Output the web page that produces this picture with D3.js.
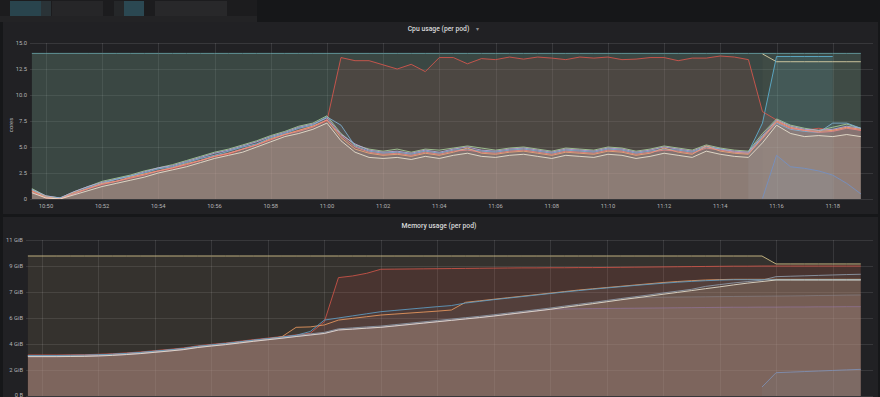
<!DOCTYPE html>
<html><head><meta charset="utf-8">
<script src="https://cdn.jsdelivr.net/npm/d3@7"></script>
<style>
html,body{margin:0;padding:0;background:#161719;overflow:hidden}
svg{display:block}
text{font-family:Roboto,"Noto Sans",sans-serif}
</style></head><body>
<svg id="c" width="880" height="397"></svg>
<script>
// ---------- DATA ----------
const times = ["10:49:30","10:50:00","10:50:30","10:51:00","10:51:30","10:52:00","10:52:30","10:53:00","10:53:30","10:54:00",
"10:54:30","10:55:00","10:55:30","10:56:00","10:56:30","10:57:00","10:57:30","10:58:00","10:58:30","10:59:00",
"10:59:30","11:00:00","11:00:30","11:01:00","11:01:30","11:02:00","11:02:30","11:03:00","11:03:30","11:04:00",
"11:04:30","11:05:00","11:05:30","11:06:00","11:06:30","11:07:00","11:07:30","11:08:00","11:08:30","11:09:00",
"11:09:30","11:10:00","11:10:30","11:11:00","11:11:30","11:12:00","11:12:30","11:13:00","11:13:30","11:14:00",
"11:14:30","11:15:00","11:15:30","11:16:00","11:16:30","11:17:00","11:17:30","11:18:00","11:18:30","11:19:00"];

const cpuTicks = [0, 2.5, 5, 7.5, 10, 12.5, 15];
const cpuTickLabels = ["0","2.5","5.0","7.5","10.0","12.5","15.0"];
const memTickBytes = [0, 2e9, 4e9, 6e9, 8e9, 10e9, 12e9];
const memTickLabels = ["0 B","2 GiB","4 GiB","6 GiB","7 GiB","9 GiB","11 GiB"];

// CPU (cores)
const cpuLimit = [14,14,14,14,14,14,14,14,14,14,14,14,14,14,14,14,14,14,14,14,14,14,14,14,14,14,14,14,14,14,
14,14,14,14,14,14,14,14,14,14,14,14,14,14,14,14,14,14,14,14,14,14,14,14,14,14,14,14,14,14];
const cpuBeige = Array(52).fill(null).concat([13.95,13.2,13.2,13.2,13.2,13.2,13.2,13.2]);
const cpuTeal = Array(51).fill(null).concat([4.5,7.3,13.7,13.7,13.7,13.7,13.7,null,null]);
const cpuRed = [0.8,0.1,0.05,0.5,1.0,1.4,1.7,2.0,2.4,2.7,2.9,3.3,3.7,4.1,4.3,4.8,5.2,5.7,6.2,6.6,7.0,7.5,
13.6,13.3,13.3,12.9,12.5,12.95,12.25,13.6,13.6,13.0,13.5,13.4,13.65,13.45,13.65,13.55,13.4,13.65,13.55,13.65,13.4,13.45,13.6,13.6,13.3,13.55,13.55,13.75,13.65,13.4,
8.4,7.6,6.8,6.6,6.8,6.6,6.9,6.6];
const cpuA = [0.6,0.1,0.0,0.4,0.8,1.2,1.5,1.8,2.1,2.5, 2.8,3.1,3.5,3.9,4.2,4.5,5.0,5.5,6.0,6.3, 6.7,7.3,5.6,4.5,4.0,3.9,4.0,3.8,4.1,3.9, 4.2,4.4,4.1,4.0,4.2,4.3,4.1,3.9,4.2,4.1, 4.0,4.3,4.2,3.9,4.1,4.4,4.2,4.0,4.6,4.3, 4.1,4.0,5.4,7.1,6.3,6.0,6.1,6.0,6.2,6.0];
const cpuB = [1.0,0.3,0.1,0.7,1.2,1.7,2.0,2.3,2.7,3.0, 3.3,3.7,4.1,4.5,4.8,5.2,5.6,6.1,6.5,7.0, 7.3,8.0,6.3,5.2,4.8,4.6,4.8,4.5,4.8,4.7, 4.9,5.1,4.9,4.7,4.9,5.0,4.8,4.6,4.9,4.8, 4.7,5.0,4.9,4.6,4.8,5.1,4.9,4.7,5.2,4.9, 4.7,4.6,6.3,7.7,7.1,6.8,6.6,6.9,7.2,6.8];
const cpuC = [0.8,0.2,0.0,0.6,1.0,1.5,1.7,2.1,2.4,2.7, 3.0,3.4,3.7,4.1,4.4,4.8,5.2,5.8,6.2,6.6, 7.0,7.6,5.9,4.8,4.4,4.2,4.3,4.1,4.4,4.2, 4.5,4.9,4.4,4.3,4.5,4.6,4.4,4.2,4.5,4.4, 4.3,4.6,4.5,4.2,4.4,4.9,4.5,4.3,5.1,4.6, 4.4,4.3,5.9,7.5,6.9,6.6,6.5,6.6,6.9,6.7];
const cpuD = [0.9,0.2,0.1,0.5,1.1,1.5,1.9,2.2,2.5,2.9, 3.1,3.5,3.9,4.2,4.6,5.0,5.3,5.9,6.3,6.8, 7.1,7.9,7.1,5.1,4.6,4.4,4.5,4.3,4.6,4.4, 4.7,4.8,4.6,4.5,4.7,4.8,4.6,4.4,4.7,4.6, 4.5,4.8,4.7,4.4,4.6,4.8,4.7,4.5,5.0,4.8, 4.5,4.4,6.0,7.3,6.7,6.5,6.4,7.3,7.3,6.8];
const cpuE = [0.7,0.1,0.0,0.5,1.0,1.4,1.7,2.0,2.3,2.7, 3.0,3.3,3.7,4.1,4.4,4.8,5.2,5.7,6.2,6.5, 6.9,7.6,6.1,5.0,4.5,4.3,4.4,4.2,4.5,4.3, 4.6,4.7,4.5,4.4,4.6,4.7,4.5,4.3,4.6,4.5, 4.4,4.7,4.6,4.3,4.5,4.7,4.6,4.4,4.9,4.7, 4.5,4.4,5.8,7.4,6.8,6.6,6.4,6.5,6.8,6.6];
const cpuF = [0.9,0.3,0.1,0.7,1.2,1.6,1.9,2.2,2.6,3.0, 3.2,3.6,4.0,4.4,4.7,5.1,5.5,6.0,6.4,6.9, 7.2,7.8,6.2,5.3,4.7,4.5,4.6,4.4,4.7,4.5, 4.8,5.0,4.7,4.6,4.8,4.9,4.7,4.5,4.8,4.7, 4.6,4.9,4.8,4.5,4.7,5.0,4.8,4.6,5.1,4.8, 4.6,4.5,6.1,7.6,7.0,6.7,6.6,6.7,7.0,6.8];
const cpuNew = Array(52).fill(null).concat([0.05,4.2,3.1,2.95,2.7,2.3,1.5,0.5]);

// Memory (GiB)
const memYellow = [10.03,10.03,10.03,10.03,10.03,10.03,10.03,10.03,10.03,10.03,10.03,10.03,10.03,10.03,10.03,10.03,10.03,10.03,10.03,10.03,
10.03,10.03,10.03,10.03,10.03,10.03,10.03,10.03,10.03,10.03,10.03,10.03,10.03,10.03,10.03,10.03,10.03,10.03,10.03,10.03,
10.03,10.03,10.03,10.03,10.03,10.03,10.03,10.03,10.03,10.03,10.03,10.03,10.03,9.46,9.46,9.46,9.46,9.46,9.46,9.46];
const memRed = [2.94,2.94,2.94,2.95,2.96,2.99,3.03,3.09,3.16,3.25,3.34,3.44,3.59,3.70,3.80,3.92,4.04,4.15,4.26,4.38,4.49,5.32,
8.48,8.60,8.79,9.08,9.09,9.10,9.11,9.12,9.13,9.14,9.15,9.16,9.17,9.18,9.18,9.19,9.19,9.20,9.20,9.21,9.22,9.23,9.24,9.25,9.26,9.27,9.28,9.29,9.30,9.30,9.31,
9.31,9.31,9.31,9.31,9.31,9.31,9.31];
const memWhite = [2.82,2.82,2.82,2.83,2.84,2.87,2.91,2.97,3.04,3.13,3.22,3.32,3.47,3.58,3.68,3.80,3.92,4.03,4.14,4.26,
4.37,4.48,4.73,4.79,4.86,4.92,5.02,5.12,5.22,5.32,5.42,5.52,5.62,5.73,5.85,5.97,6.09,6.21,6.35,6.48,
6.61,6.75,6.89,7.02,7.15,7.29,7.42,7.55,7.69,7.82,7.96,8.09,8.20,8.31,8.31,8.31,8.31,8.31,8.31,8.31];
const memOrange = [2.86,2.86,2.86,2.87,2.88,2.91,2.95,3.01,3.08,3.17,3.26,3.36,3.51,3.62,3.72,3.84,3.96,4.07,4.25,4.92,
4.95,5.09,5.44,5.56,5.68,5.80,5.87,5.94,6.01,6.08,6.16,6.71,6.82,6.93,7.04,7.15,7.26,7.37,7.48,7.59,
7.68,7.77,7.86,7.95,8.04,8.13,8.20,8.26,8.31,8.34,8.36,8.36,8.36,8.36,8.36,8.36,8.36,8.36,8.36,8.36];
const memBlue = [2.90,2.90,2.90,2.91,2.92,2.95,2.99,3.05,3.12,3.21,3.30,3.40,3.55,3.66,3.76,3.88,4.00,4.11,4.22,4.35,
4.62,5.44,5.59,5.74,5.89,6.04,6.13,6.22,6.31,6.40,6.48,6.66,6.78,6.90,7.01,7.12,7.23,7.34,7.45,7.55,
7.65,7.74,7.83,7.92,8.00,8.08,8.15,8.21,8.26,8.30,8.33,8.33,8.33,8.33,8.33,8.33,8.33,8.33,8.33,8.33];
const memGray = [2.90,2.90,2.90,2.91,2.92,2.95,2.99,3.05,3.12,3.21,3.30,3.40,3.55,3.66,3.76,3.88,4.00,4.11,4.22,4.34,
4.45,4.56,4.81,4.88,4.95,5.01,5.11,5.21,5.31,5.41,5.51,5.61,5.71,5.82,5.94,6.06,6.18,6.30,6.44,6.57,
6.70,6.84,6.98,7.11,7.24,7.38,7.51,7.64,7.85,7.98,8.10,8.20,8.30,8.55,8.58,8.61,8.64,8.67,8.70,8.72];
const memPurple = [2.82,2.82,2.82,2.83,2.84,2.87,2.91,2.97,3.04,3.13,3.22,3.32,3.47,3.58,3.68,3.80,3.92,4.03,4.14,4.26,
4.37,4.48,4.73,4.79,4.86,4.92,5.02,5.12,5.22,5.32,5.42,5.52,5.62,5.73,5.85,5.97,6.09,6.21,6.24,6.25,
6.26,6.27,6.28,6.29,6.30,6.31,6.32,6.33,6.34,6.35,6.36,6.36,6.37,6.37,6.38,6.38,6.39,6.39,6.40,6.40];
const memGray2 = [2.84,2.84,2.84,2.85,2.86,2.89,2.93,2.99,3.06,3.15,3.24,3.34,3.49,3.60,3.70,3.82,3.94,4.05,4.16,4.28,
4.39,4.50,4.75,4.81,4.88,4.94,5.04,5.14,5.24,5.34,5.44,5.54,5.64,5.75,5.87,5.99,6.11,6.23,6.37,6.50,
6.63,6.77,6.91,7.03,7.07,7.08,7.09,7.10,7.11,7.12,7.13,7.14,7.15,7.16,7.17,7.18,7.20,7.21,7.23,7.24];
const memNew = Array(52).fill(null).concat([0.64,1.67,1.71,1.75,1.79,1.83,1.87,1.91]);

// ---------- DRAW ----------
const svg = d3.select("#c");
const toDate = s => { const p = s.split(":").map(Number); return new Date(2020,0,1,p[0],p[1],p[2]); };
const T = times.map(toDate);
const t0 = new Date(2020,0,1,10,49,26), t1 = new Date(2020,0,1,11,19,26);
const GiB = Math.pow(2,30);

svg.append("rect").attr("width",880).attr("height",397).attr("fill","#161719");
// header (blurred toolbar)
const hdr = [[0,0,257,16,"#1c1c1e"],[10,1,31,15,"#29444d"],[41,1,10,15,"#2a3337"],[52,1,51,15,"#262628"],
  [114,1,10,15,"#252729"],[124,1,20,15,"#2b4852"],[155,1,72,15,"#28282a"],[0,16,257,6,"#232325"]];
svg.selectAll("rect.h").data(hdr).enter().append("rect").attr("class","h")
  .attr("x",d=>d[0]).attr("y",d=>d[1]).attr("width",d=>d[2]).attr("height",d=>d[3]).attr("fill",d=>d[4]);

svg.append("rect").attr("x",3).attr("y",22).attr("width",875).attr("height",192).attr("fill","#212124");
svg.append("rect").attr("x",3).attr("y",217).attr("width",875).attr("height",190).attr("fill","#212124");

function panel(opt){
  const g = svg.append("g");
  const x = d3.scaleTime().domain([t0,t1]).range([opt.left, 873]);
  const y = d3.scaleLinear().domain(opt.ydom).range([opt.bottom, opt.top]);
  const id = "clip"+opt.name;
  svg.append("defs").append("clipPath").attr("id",id).append("rect")
    .attr("x",opt.left).attr("y",opt.top).attr("width",873-opt.left).attr("height",opt.bottom-opt.top);
  const xt = x.ticks(d3.timeMinute.every(2));
  g.selectAll("line.gy").data(opt.yticks).enter().append("line")
    .attr("x1",opt.left).attr("x2",873).attr("y1",d=>Math.round(y(d))+0.5).attr("y2",d=>Math.round(y(d))+0.5)
    .attr("stroke","#ffffff").attr("stroke-opacity",0.1);
  g.selectAll("line.gx").data(xt).enter().append("line")
    .attr("y1",opt.top).attr("y2",opt.bottom).attr("x1",d=>Math.round(x(d))+0.5).attr("x2",d=>Math.round(x(d))+0.5)
    .attr("stroke","#ffffff").attr("stroke-opacity",0.1);
  const pts = arr => arr.map((v,i)=>[T[i], v==null?null:v*opt.mult]);
  const area = d3.area().defined(d=>d[1]!=null).x(d=>x(d[0])).y0(y(0)).y1(d=>y(d[1]));
  const line = d3.line().defined(d=>d[1]!=null).x(d=>x(d[0])).y(d=>y(d[1]));
  const cg = g.append("g").attr("clip-path",`url(#${id})`);
  opt.series.forEach(s=>{
    cg.append("path").attr("d",area(pts(s.data))).attr("fill",s.fill).attr("fill-opacity",s.fo);
  });
  opt.series.forEach(s=>{
    cg.append("path").attr("d",line(pts(s.data))).attr("fill","none").attr("stroke",s.line)
      .attr("stroke-width",1).attr("stroke-opacity",s.lo==null?0.85:s.lo).attr("stroke-linejoin","round");
  });
  g.selectAll("text.yl").data(opt.yticks).enter().append("text")
    .attr("x",opt.labelX).attr("y",d=>Math.min(y(d)+2,396.5)).attr("text-anchor","end")
    .attr("font-size",5.8).attr("fill","#b4b4b6").text((d,i)=>opt.ylabels[i]);
  if (opt.xlabels) {
    g.selectAll("text.xl").data(xt).enter().append("text")
      .attr("x",d=>x(d)).attr("y",opt.bottom+8.7).attr("text-anchor","middle")
      .attr("font-size",5.8).attr("fill","#b4b4b6").text(d=>d3.timeFormat("%H:%M")(d));
  }
  svg.append("text").attr("x",opt.titleX).attr("y",opt.titleY).attr("text-anchor","middle")
    .attr("font-size",6.8).attr("font-weight",500).attr("fill","#d8d9da").text(opt.title);
}

const cf = 0.11;
panel({name:"cpu", left:30, top:43, bottom:199, ydom:[0,15], mult:1, xlabels:true,
  yticks:cpuTicks, ylabels:cpuTickLabels, labelX:27, title:"Cpu usage (per pod)", titleX:438.5, titleY:31.4,
  series:[
    {data:cpuLimit, line:"#6aa3a8", fill:"rgb(110,150,130)", fo:0.33},
    {data:cpuBeige, line:"#e3d6aa", fill:"#e3d6aa", fo:0.03},
    {data:cpuTeal, line:"#5fb3d3", fill:"rgb(110,200,220)", fo:0.12},
    {data:cpuRed, line:"#d9574e", fill:"#e24d42", fo:0.11},
    {data:cpuB, line:"#a9cf9a", fill:"#b7c9ab", fo:cf},
    {data:cpuF, line:"#b7a6de", fill:"#d8a8d6", fo:cf},
    {data:cpuD, line:"#7fb3d6", fill:"#92b0cc", fo:cf},
    {data:cpuC, line:"#f0a874", fill:"#ecb48f", fo:cf},
    {data:cpuE, line:"#e88a8a", fill:"#e89a9a", fo:cf},
    {data:cpuA, line:"#ece5d2", fill:"#e8cfa0", fo:cf},
    {data:cpuNew, line:"#7390c4", fill:"#82b5d8", fo:0.08}
  ]});
svg.append("text").attr("x",476).attr("y",31).attr("font-size",5.5).attr("fill","#8e8e90").text("▾");
svg.append("text").attr("transform","translate(12.5,125) rotate(-90)").attr("text-anchor","middle")
  .attr("font-size",5.8).attr("fill","#b4b4b6").text("cores");

panel({name:"mem", left:26, top:240, bottom:396, ydom:[0,12e9], mult:GiB, xlabels:false,
  yticks:memTickBytes, ylabels:memTickLabels, labelX:23, title:"Memory usage (per pod)", titleX:439, titleY:227.6,
  series:[
    {data:memYellow, line:"#d8c68c", fill:"rgb(200,170,120)", fo:0.12},
    {data:memRed, line:"#cf5549", fill:"#e24d42", fo:0.12},
    {data:memGray, line:"#8f9cac", fill:"#a8a29a", fo:0.06},
    {data:memOrange, line:"#eb9a5f", fill:"#d39a78", fo:0.06},
    {data:memBlue, line:"#5f9ec4", fill:"#8fa6b8", fo:0.06},
    {data:memGray2, line:"#8c8c96", fill:"#c08a7c", fo:0.14, lo:0.5},
    {data:memPurple, line:"#9b7bb5", fill:"#a8949c", fo:0.14, lo:0.5},
    {data:memWhite, line:"#e8e2d0", fill:"#c8b08e", fo:0.16},
    {data:memNew, line:"#7f90b5", fill:"#82b5d8", fo:0.06}
  ]});
</script>
</body></html>
